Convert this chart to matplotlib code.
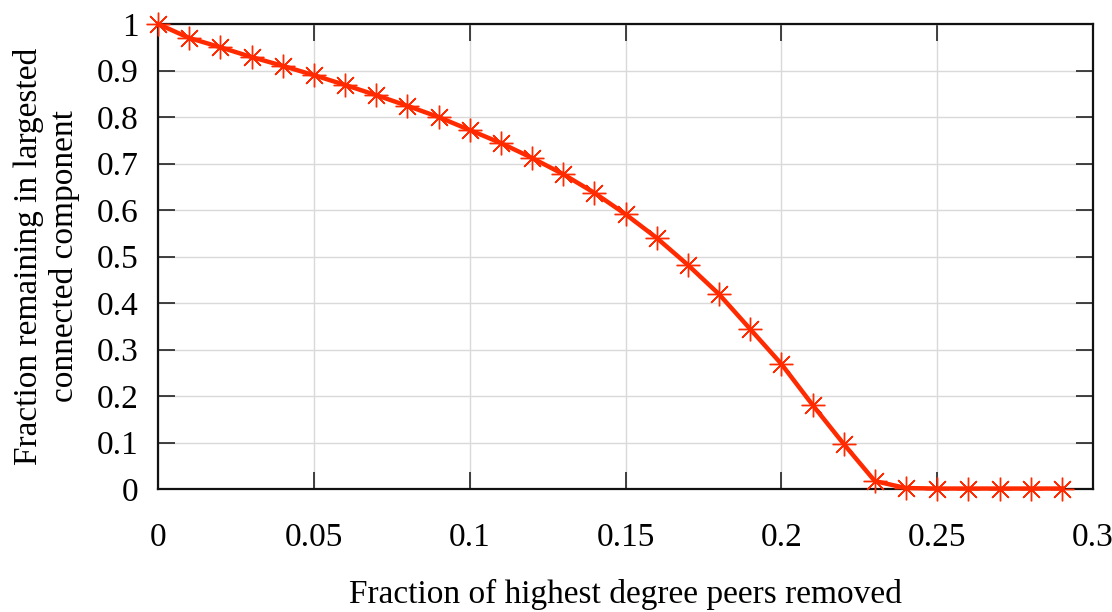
import matplotlib
matplotlib.use("Agg")
import matplotlib.pyplot as plt

x_frac = [0.00, 0.01, 0.02, 0.03, 0.04, 0.05, 0.06, 0.07, 0.08, 0.09,
          0.10, 0.11, 0.12, 0.13, 0.14, 0.15, 0.16, 0.17, 0.18, 0.19,
          0.20, 0.21, 0.22, 0.23, 0.24, 0.25, 0.26, 0.27, 0.28, 0.29]
y_remaining = [1.000, 0.970, 0.950, 0.929, 0.910, 0.890, 0.869, 0.847, 0.824, 0.800,
               0.772, 0.744, 0.712, 0.677, 0.637, 0.591, 0.540, 0.482, 0.419, 0.344,
               0.269, 0.181, 0.097, 0.017, 0.002, 0.001, 0.001, 0.001, 0.001, 0.001]
x_ticks = [0, 0.05, 0.1, 0.15, 0.2, 0.25, 0.3]
x_tick_labels = ["0", "0.05", "0.1", "0.15", "0.2", "0.25", "0.3"]
y_ticks = [0, 0.1, 0.2, 0.3, 0.4, 0.5, 0.6, 0.7, 0.8, 0.9, 1.0]
y_tick_labels = ["0", "0.1", "0.2", "0.3", "0.4", "0.5", "0.6", "0.7", "0.8", "0.9", "1"]

plt.rcParams['font.family'] = ['Liberation Serif', 'DejaVu Serif']
plt.rcParams['font.size'] = 24

fig = plt.figure(figsize=(11.12, 6.12), dpi=100)
ax = fig.add_axes([158/1112, 1 - 489/612, (1093 - 158)/1112, (489 - 24)/612])

color = '#ff2a00'
ax.plot(x_frac, y_remaining, color=color, linewidth=3.2, marker=(8, 2, 0),
        markersize=17, markeredgewidth=1.0, markeredgecolor=color, zorder=3,
        clip_on=False)

ax.set_xlim(0, 0.3)
ax.set_ylim(0, 1)
ax.set_xticks(x_ticks)
ax.set_xticklabels(x_tick_labels)
ax.set_yticks(y_ticks)
ax.set_yticklabels(y_tick_labels)
ax.grid(True, color='#d9d9d9', linewidth=1.0, zorder=0)
ax.set_axisbelow(True)
ax.tick_params(direction='in', length=12, width=1.2, top=True, right=True,
               color='#222222')
ax.tick_params(axis='x', pad=24)
ax.tick_params(axis='y', pad=14)
for s in ax.spines.values():
    s.set_linewidth(1.6)
    s.set_color('#111111')

ax.set_xlabel("Fraction of highest degree peers removed", labelpad=19)
ax.set_ylabel("Fraction remaining in largested\nconnected component", labelpad=12,
              linespacing=1.2)

fig.savefig("out.png", dpi=100)
